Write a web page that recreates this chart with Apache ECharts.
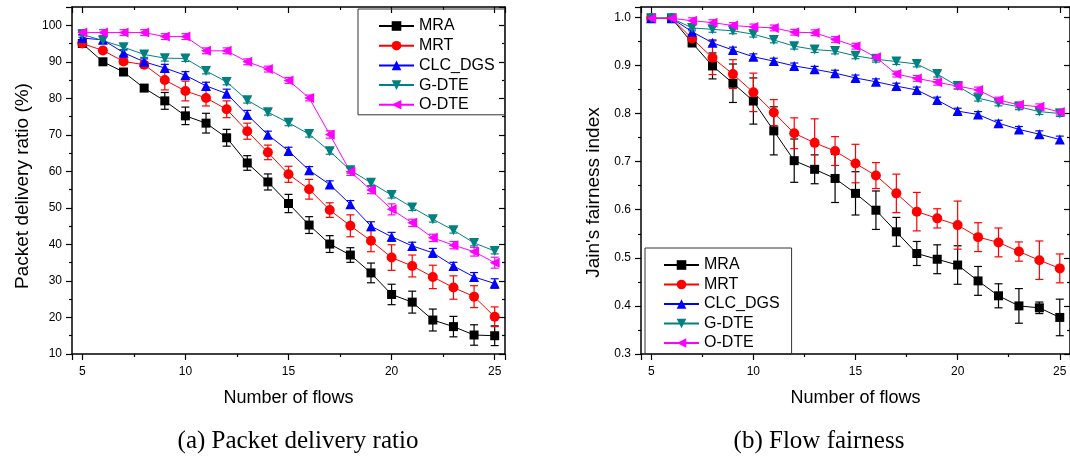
<!DOCTYPE html>
<html>
<head>
<meta charset="utf-8">
<script src="https://cdn.jsdelivr.net/npm/echarts@6/dist/echarts.min.js"></script>
<style>
  html, body { margin: 0; padding: 0; background: #fff; }
  #main { width: 1070px; height: 456px; }
</style>
</head>
<body>
<div id="main"></div>
<script>
// number of flows
var flows = [5, 6, 7, 8, 9, 10, 11, 12, 13, 14, 15, 16, 17, 18, 19, 20, 21, 22, 23, 24, 25];
var names = ['MRA', 'MRT', 'CLC_DGS', 'G-DTE', 'O-DTE'];

// (a) packet delivery ratio (%), mean and half error
var pdrMRA = [95, 90, 87.2, 82.8, 79.3, 75.2, 73.2, 69.2, 62.3, 57.1, 51.2, 45.3, 40.1, 37.1, 32.2, 26.3, 24.2, 19.3, 17.5, 15.2, 15.0];
var pdrMRAErr = [1, 0.6, 0.6, 0.7, 2.3, 2.4, 2.7, 2.3, 2.0, 2.2, 2.5, 2.3, 2.3, 2.0, 2.7, 2.8, 3.0, 3.0, 2.8, 2.8, 2.7];
var pdrMRT = [95, 93.1, 90.1, 89.2, 85, 82, 80.1, 77, 71, 65.2, 59.2, 55.1, 49.4, 45.1, 41.0, 36.4, 34.1, 31.1, 28.2, 25.7, 20.2];
var pdrMRTErr = [0.6, 0.6, 0.8, 0.8, 2.7, 2.7, 2.2, 2.3, 2.2, 2.0, 2.2, 2.7, 2.0, 3.0, 3.0, 3.5, 3.0, 3.2, 3.2, 3.0, 2.7];
var pdrCLC = [96.5, 96, 92.5, 90, 88.3, 86.3, 83.4, 81.3, 75.5, 70, 65.6, 60.3, 56.4, 51, 45, 42.1, 39.6, 37.7, 34.1, 31.1, 29.3];
var pdrCLCErr = [1, 0.8, 0.8, 0.8, 1, 1, 1, 1.2, 1.2, 1, 1, 1, 1, 1, 1.2, 1.2, 1, 1.2, 1, 1.2, 1.3];
var pdrGDTE = [97.5, 95.8, 94, 92, 91, 90.9, 87.5, 84.5, 79.5, 76.2, 73.3, 70.2, 65.5, 60.3, 56.9, 53.5, 50.1, 46.9, 43.9, 40.4, 38.2];
var pdrGDTEErr = [0.8, 0.8, 0.8, 0.8, 0.8, 0.8, 0.8, 0.8, 0.8, 0.8, 0.8, 0.8, 0.8, 0.8, 0.8, 0.8, 0.8, 0.8, 0.8, 0.8, 0.8];
var pdrODTE = [98, 98, 98, 98, 96.9, 96.9, 93, 93, 90, 88, 84.9, 80.1, 70.1, 59.9, 54.9, 49.6, 45.9, 41.8, 39.8, 38, 35];
var pdrODTEErr = [0.8, 0.8, 0.8, 0.8, 0.8, 0.8, 0.8, 0.8, 0.8, 0.8, 0.8, 0.8, 1, 1, 1, 1.5, 1, 1, 1, 1.2, 1.5];

// (b) Jain's fairness index, mean and half error
var fairMRA = [0.998, 0.998, 0.947, 0.899, 0.863, 0.826, 0.764, 0.702, 0.684, 0.665, 0.634, 0.599, 0.554, 0.509, 0.497, 0.485, 0.452, 0.421, 0.400, 0.396, 0.376];
var fairMRAErr = [0.003, 0.003, 0.008, 0.027, 0.04, 0.048, 0.05, 0.045, 0.03, 0.05, 0.045, 0.04, 0.03, 0.025, 0.03, 0.04, 0.03, 0.025, 0.036, 0.012, 0.038];
var fairMRT = [0.998, 0.998, 0.956, 0.916, 0.882, 0.844, 0.802, 0.759, 0.739, 0.722, 0.696, 0.671, 0.634, 0.596, 0.582, 0.568, 0.543, 0.532, 0.513, 0.495, 0.478];
var fairMRTErr = [0.003, 0.003, 0.008, 0.035, 0.03, 0.04, 0.027, 0.032, 0.05, 0.03, 0.04, 0.027, 0.04, 0.04, 0.02, 0.05, 0.03, 0.03, 0.02, 0.04, 0.03];
var fairCLC = [0.998, 0.998, 0.970, 0.947, 0.932, 0.918, 0.909, 0.899, 0.892, 0.884, 0.874, 0.866, 0.857, 0.849, 0.828, 0.805, 0.798, 0.780, 0.767, 0.757, 0.746];
var fairCLCErr = [0.004, 0.004, 0.006, 0.006, 0.006, 0.006, 0.006, 0.006, 0.006, 0.006, 0.006, 0.006, 0.006, 0.006, 0.006, 0.006, 0.006, 0.006, 0.006, 0.007, 0.007];
var fairGDTE = [0.998, 0.998, 0.978, 0.975, 0.972, 0.965, 0.953, 0.940, 0.933, 0.930, 0.920, 0.913, 0.908, 0.903, 0.882, 0.857, 0.832, 0.822, 0.814, 0.804, 0.800];
var fairGDTEErr = [0.004, 0.004, 0.006, 0.006, 0.006, 0.006, 0.006, 0.006, 0.006, 0.006, 0.006, 0.006, 0.006, 0.006, 0.006, 0.006, 0.006, 0.006, 0.006, 0.006, 0.006];
var fairODTE = [0.998, 0.998, 0.993, 0.989, 0.983, 0.980, 0.978, 0.969, 0.968, 0.954, 0.940, 0.917, 0.882, 0.873, 0.865, 0.857, 0.849, 0.828, 0.818, 0.814, 0.803];
var fairODTEErr = [0.004, 0.004, 0.006, 0.006, 0.006, 0.006, 0.006, 0.006, 0.006, 0.006, 0.006, 0.006, 0.006, 0.006, 0.006, 0.006, 0.006, 0.006, 0.006, 0.006, 0.006];

var colors = ['#000000', '#ff0000', '#0000ff', '#008080', '#ff00ff'];
var symbols = ['rect', 'circle', 'triangle', 'triangle', 'triangle'];
var rotates = [0, 0, 0, 180, 90];
var sizes = [9, 10, 10, 10, 10];

var pdrMeans = [pdrMRA, pdrMRT, pdrCLC, pdrGDTE, pdrODTE];
var pdrErrs = [pdrMRAErr, pdrMRTErr, pdrCLCErr, pdrGDTEErr, pdrODTEErr];
var fairMeans = [fairMRA, fairMRT, fairCLC, fairGDTE, fairODTE];
var fairErrs = [fairMRAErr, fairMRTErr, fairCLCErr, fairGDTEErr, fairODTEErr];

var font = 'Liberation Sans, Arial, Helvetica, sans-serif';

function renderErrorBar(params, api) {
    var x = api.value(0);
    var top = api.coord([x, api.value(2)]);
    var bot = api.coord([x, api.value(1)]);
    var c = api.visual('color');
    var w = 4;
    var st = { stroke: c, lineWidth: 1.2 };
    return {
        type: 'group',
        children: [
            { type: 'line', shape: { x1: top[0], y1: top[1], x2: bot[0], y2: bot[1] }, style: st },
            { type: 'line', shape: { x1: top[0] - w, y1: top[1], x2: top[0] + w, y2: top[1] }, style: st },
            { type: 'line', shape: { x1: bot[0] - w, y1: bot[1], x2: bot[0] + w, y2: bot[1] }, style: st }
        ]
    };
}

function buildSeries(means, errs, axisIdx) {
    var out = [];
    for (var i = 0; i < names.length; i++) {
        var line = [], bars = [];
        for (var j = 0; j < flows.length; j++) {
            line.push([flows[j], means[i][j]]);
            bars.push([flows[j], means[i][j] - errs[i][j], means[i][j] + errs[i][j]]);
        }
        out.push({
            type: 'custom',
            name: names[i] + '_err',
            xAxisIndex: axisIdx, yAxisIndex: axisIdx,
            renderItem: renderErrorBar,
            itemStyle: { color: colors[i] },
            data: bars,
            z: 2,
            silent: true
        });
        out.push({
            type: 'line',
            name: names[i],
            xAxisIndex: axisIdx, yAxisIndex: axisIdx,
            data: line,
            symbol: symbols[i],
            symbolRotate: rotates[i],
            symbolSize: sizes[i],
            lineStyle: { color: colors[i], width: 1 },
            itemStyle: { color: colors[i] },
            z: 3
        });
    }
    return out;
}

function xAxes(grid) {
    var base = {
        type: 'value', gridIndex: grid, min: 4.5, max: 25.5,
        splitLine: { show: false },
        axisLine: { lineStyle: { color: '#000', width: 1.5 } }
    };
    return [
        Object.assign({}, base, {
            position: 'bottom',
            name: 'Number of flows', nameLocation: 'middle', nameGap: 35,
            nameTextStyle: { fontSize: 18, color: '#000', fontFamily: font },
            axisTick: { length: 6, lineStyle: { color: '#000', width: 1.2 } },
            minorTick: { show: true, splitNumber: 2, length: 3, lineStyle: { color: '#000', width: 1.2 } },
            axisLabel: { fontSize: 12, color: '#000', fontFamily: font, margin: 12, showMinLabel: false, showMaxLabel: false }
        }),
        Object.assign({}, base, {
            position: 'top',
            axisTick: { inside: true, length: 6, lineStyle: { color: '#000', width: 1.2 } },
            minorTick: { show: true, splitNumber: 2, length: 3, lineStyle: { color: '#000', width: 1.2 } },
            axisLabel: { show: false }
        })
    ];
}

function yAxes(grid, min, max, step, title, gap, shift, digits) {
    var base = {
        type: 'value', gridIndex: grid, min: min, max: max, interval: step,
        splitLine: { show: false },
        axisLine: { lineStyle: { color: '#000', width: 1.5 } }
    };
    return [
        Object.assign({}, base, {
            position: 'left',
            name: title, nameLocation: 'middle', nameGap: gap,
            nameTextStyle: { fontSize: 19, color: '#000', fontFamily: font, padding: [0, shift, 0, 0] },
            axisTick: { length: 6, lineStyle: { color: '#000', width: 1.2 } },
            minorTick: { show: true, splitNumber: 2, length: 3, lineStyle: { color: '#000', width: 1.2 } },
            axisLabel: {
                fontSize: 12, color: '#000', fontFamily: font, margin: 10, showMaxLabel: false,
                formatter: function (v) { return v.toFixed(digits); }
            }
        }),
        Object.assign({}, base, {
            position: 'right',
            axisTick: { inside: true, length: 6, lineStyle: { color: '#000', width: 1.2 } },
            minorTick: { show: true, splitNumber: 2, length: 3, lineStyle: { color: '#000', width: 1.2 } },
            axisLabel: { show: false }
        })
    ];
}

var myChart = echarts.init(document.getElementById('main'));

var xs = xAxes(0).concat(xAxes(1));
var ys = yAxes(0, 10, 105, 10, 'Packet delivery ratio (%)', 40, 11, 0)
    .concat(yAxes(1, 0.3, 1.0215, 0.1, "Jain's fairness index", 38, 24, 1));

// series on the bottom/left axes of each grid: axis index 0 for (a), 2 for (b)
var series = buildSeries(pdrMeans, pdrErrs, 0).concat(buildSeries(fairMeans, fairErrs, 2));

var legendBase = {
    orient: 'vertical',
    data: names,
    itemWidth: 35,
    itemHeight: 12,
    borderColor: '#333',
    borderWidth: 1,
    borderRadius: 0,
    textStyle: { fontSize: 16, color: '#000', fontFamily: font },
    selectedMode: false
};

var serif = 'Liberation Serif, DejaVu Serif, serif';

myChart.setOption({
    animation: false,
    grid: [
        { left: 72, top: 7, width: 433, height: 347 },
        { left: 641, top: 7, width: 436, height: 347 }
    ],
    xAxis: xs,
    yAxis: ys,
    legend: [
        Object.assign({}, legendBase, { left: 358, top: 9, itemGap: 3.7, padding: [9, 10, 2, 20] }),
        Object.assign({}, legendBase, { left: 645, top: 248, itemGap: 3.5, padding: [9, 12, 3, 18] })
    ],
    graphic: [
        { type: 'text', style: { text: '(a) Packet delivery ratio', x: 298, y: 441, textAlign: 'center', textVerticalAlign: 'middle', fontSize: 25, fontFamily: serif, fill: '#000' } },
        { type: 'text', style: { text: '(b) Flow fairness', x: 819, y: 441, textAlign: 'center', textVerticalAlign: 'middle', fontSize: 25, fontFamily: serif, fill: '#000' } }
    ],
    series: series
});
</script>
</body>
</html>
